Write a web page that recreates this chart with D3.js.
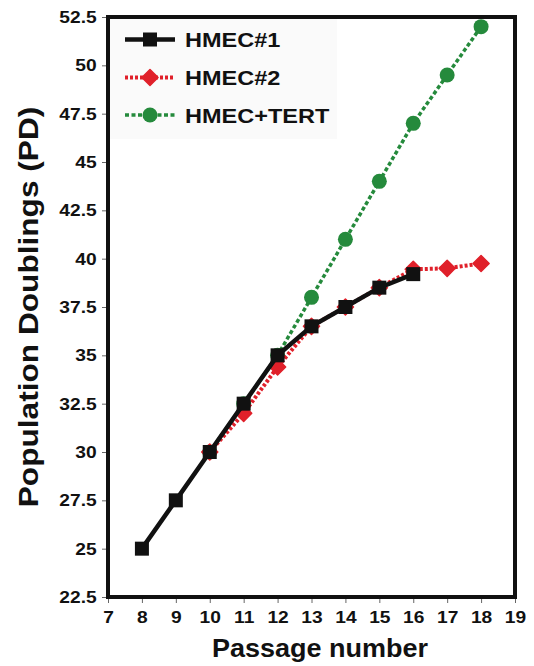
<!DOCTYPE html>
<html>
<head>
<meta charset="utf-8">
<script src="https://cdn.jsdelivr.net/npm/d3@7"></script>
<style>
  body { margin: 0; background: #fff; }
  text { font-family: "Liberation Sans", Arial, Helvetica, sans-serif; font-weight: bold; fill: #111; }
</style>
</head>
<body>
<script>
// passage numbers and PD values
var passage_hmec1 = [8, 9, 10, 11, 12, 13, 14, 15, 16];
var pd_hmec1 = [25, 27.5, 30, 32.5, 35, 36.5, 37.5, 38.5, 39.2];

var passage_hmec2 = [10, 11, 12, 13, 14, 15, 16, 17, 18];
var pd_hmec2 = [30, 32, 34.4, 36.5, 37.5, 38.5, 39.45, 39.5, 39.75];

var passage_tert = [10, 11, 12, 13, 14, 15, 16, 17, 18];
var pd_tert = [30, 32.5, 35, 38, 41, 44, 47, 49.5, 52];

var x_ticks = [7, 8, 9, 10, 11, 12, 13, 14, 15, 16, 17, 18, 19];
var y_ticks = [22.5, 25, 27.5, 30, 32.5, 35, 37.5, 40, 42.5, 45, 47.5, 50, 52.5];

var series_names = ["HMEC#1", "HMEC#2", "HMEC+TERT"];

var width = 534, height = 666;
var margin = {top: 17, right: 19, bottom: 69, left: 108};
var plot_w = width - margin.left - margin.right;
var plot_h = height - margin.top - margin.bottom;

var black = "#111111", red = "#e0202a", green = "#258a3c";
var stretch = "scale(1.13,1)";

var svg = d3.select("body").append("svg")
            .attr("width", width)
            .attr("height", height);

var g = svg.append("g")
           .attr("transform", "translate(" + margin.left + "," + margin.top + ")");

var x = d3.scaleLinear().domain([7, 19]).range([0, plot_w]);
var y = d3.scaleLinear().domain([22.5, 52.5]).range([plot_h, 0]);

// very faint legend background
g.append("rect")
 .attr("x", 0)
 .attr("y", 0)
 .attr("width", 229)
 .attr("height", 122)
 .attr("fill", "#fafafa");

// y axis
var y_axis = g.append("g")
              .call(d3.axisLeft(y).tickValues(y_ticks).tickFormat(d3.format("")).tickSize(6).tickPadding(4));
y_axis.select(".domain").remove();
y_axis.selectAll("line").attr("stroke", "#666").attr("stroke-width", 1);
y_axis.selectAll("text")
      .attr("font-size", 17)
      .attr("fill", "#111")
      .attr("font-family", "Liberation Sans, Arial, sans-serif")
      .attr("transform", stretch);

// x axis
var x_axis = g.append("g")
              .attr("transform", "translate(0," + plot_h + ")")
              .call(d3.axisBottom(x).tickValues(x_ticks).tickFormat(d3.format("d")).tickSize(6).tickPadding(8));
x_axis.select(".domain").remove();
x_axis.selectAll("line").attr("stroke", "#666").attr("stroke-width", 1);
x_axis.selectAll("text")
      .attr("font-size", 17)
      .attr("fill", "#111")
      .attr("font-family", "Liberation Sans, Arial, sans-serif")
      .attr("transform", stretch);

// line generator
var line = d3.line()
             .x(function(d) { return x(d[0]); })
             .y(function(d) { return y(d[1]); });

var tert = d3.zip(passage_tert, pd_tert);
var hmec2 = d3.zip(passage_hmec2, pd_hmec2);
var hmec1 = d3.zip(passage_hmec1, pd_hmec1);

// HMEC+TERT, dashed green with circles
g.append("path")
 .attr("d", line(tert))
 .attr("fill", "none")
 .attr("stroke", green)
 .attr("stroke-width", 3.5)
 .attr("stroke-dasharray", "4 2.5");

g.selectAll(".tert")
 .data(tert)
 .enter().append("circle")
 .attr("cx", function(d) { return x(d[0]); })
 .attr("cy", function(d) { return y(d[1]); })
 .attr("r", 7.5)
 .attr("fill", green);

// HMEC#2, dotted red with diamonds
g.append("path")
 .attr("d", line(hmec2))
 .attr("fill", "none")
 .attr("stroke", red)
 .attr("stroke-width", 4)
 .attr("stroke-dasharray", "3 2");

var diamond = d3.symbol().type(d3.symbolSquare).size(130);

g.selectAll(".hmec2")
 .data(hmec2)
 .enter().append("path")
 .attr("d", diamond)
 .attr("transform", function(d) { return "translate(" + x(d[0]) + "," + y(d[1]) + ") rotate(45)"; })
 .attr("fill", red)
 .attr("stroke", red)
 .attr("stroke-width", 1.5)
 .attr("stroke-linejoin", "round");

// HMEC#1, solid black with squares
g.append("path")
 .attr("d", line(hmec1))
 .attr("fill", "none")
 .attr("stroke", black)
 .attr("stroke-width", 4.5);

g.selectAll(".hmec1")
 .data(hmec1)
 .enter().append("rect")
 .attr("x", function(d) { return x(d[0]) - 7; })
 .attr("y", function(d) { return y(d[1]) - 7; })
 .attr("width", 14)
 .attr("height", 14)
 .attr("fill", black);

// frame around the plot
g.append("rect")
 .attr("x", 0)
 .attr("y", 0)
 .attr("width", plot_w)
 .attr("height", plot_h)
 .attr("fill", "none")
 .attr("stroke", black)
 .attr("stroke-width", 4);

// legend
var legend_y = [22.5, 60.5, 98];
var leg = g.append("g");

leg.append("line")
   .attr("x1", 17).attr("x2", 67)
   .attr("y1", legend_y[0]).attr("y2", legend_y[0])
   .attr("stroke", black).attr("stroke-width", 4.5);
leg.append("rect")
   .attr("x", 42 - 7).attr("y", legend_y[0] - 7)
   .attr("width", 14).attr("height", 14)
   .attr("fill", black);

leg.append("line")
   .attr("x1", 17).attr("x2", 67)
   .attr("y1", legend_y[1]).attr("y2", legend_y[1])
   .attr("stroke", red).attr("stroke-width", 4).attr("stroke-dasharray", "3 2");
leg.append("path")
   .attr("d", diamond)
   .attr("transform", "translate(42," + legend_y[1] + ") rotate(45)")
   .attr("fill", red).attr("stroke", red).attr("stroke-width", 1.5).attr("stroke-linejoin", "round");

leg.append("line")
   .attr("x1", 17).attr("x2", 67)
   .attr("y1", legend_y[2]).attr("y2", legend_y[2])
   .attr("stroke", green).attr("stroke-width", 3.5).attr("stroke-dasharray", "4 2.5");
leg.append("circle")
   .attr("cx", 42).attr("cy", legend_y[2])
   .attr("r", 7.5)
   .attr("fill", green);

leg.selectAll(".label")
   .data(series_names)
   .enter().append("text")
   .attr("transform", function(d, i) { return "translate(77," + (legend_y[i] + 7.5) + ") scale(1.12,1)"; })
   .attr("font-size", 21)
   .text(function(d) { return d; });

// axis titles
svg.append("text")
   .attr("transform", "translate(320,657) scale(1.08,1)")
   .attr("text-anchor", "middle")
   .attr("font-size", 25)
   .text("Passage number");

svg.append("text")
   .attr("transform", "translate(38,307) rotate(-90) scale(1.13,1)")
   .attr("text-anchor", "middle")
   .attr("font-size", 28)
   .text("Population Doublings (PD)");
</script>
</body>
</html>
